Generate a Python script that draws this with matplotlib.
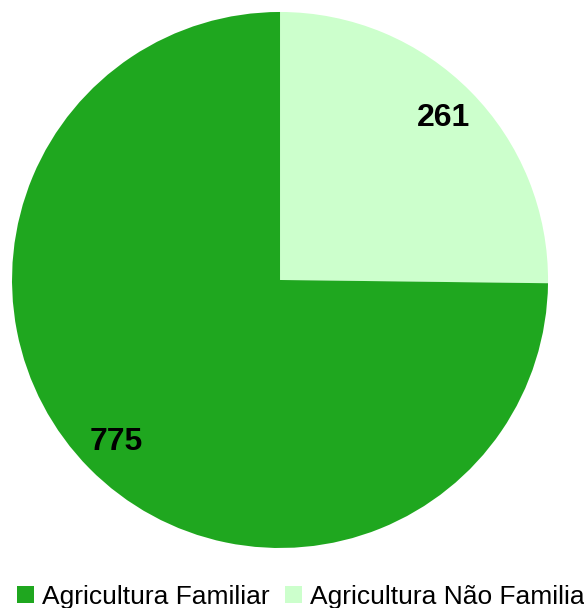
import matplotlib.pyplot as plt
from matplotlib.patches import Patch

# Data
categories = ['Agricultura Não Familiar', 'Agricultura Familiar']
values = [261, 775]
colors = ['#ccffcc', '#1fa71f']
legend_order = [1, 0]

plt.rcParams['font.family'] = ['Liberation Sans', 'DejaVu Sans']

fig = plt.figure(figsize=(5.84, 6.08), dpi=100)
ax = fig.add_axes([0.0205, 0.0987, 0.918, 0.8816])

wedges, texts, autotexts = ax.pie(
    values, colors=colors, startangle=90, counterclock=False,
    autopct=lambda p: '{:.0f}'.format(p * sum(values) / 100),
    pctdistance=0.86, wedgeprops={'linewidth': 0},
    textprops={'fontsize': 23, 'fontweight': 'bold', 'color': 'black'})
ax.set_xlim(-1, 1)
ax.set_ylim(-1, 1)
ax.set_aspect('equal')

handles = [Patch(facecolor=colors[i], edgecolor='none') for i in legend_order]
labels = [categories[i] for i in legend_order]
fig.legend(handles, labels, loc='upper left', bbox_to_anchor=(-0.012, 0.077),
           ncol=2, frameon=False, fontsize=19, handlelength=0.65,
           handleheight=0.65, handletextpad=0.3, columnspacing=0.6)

fig.savefig('out.png', dpi=100)
